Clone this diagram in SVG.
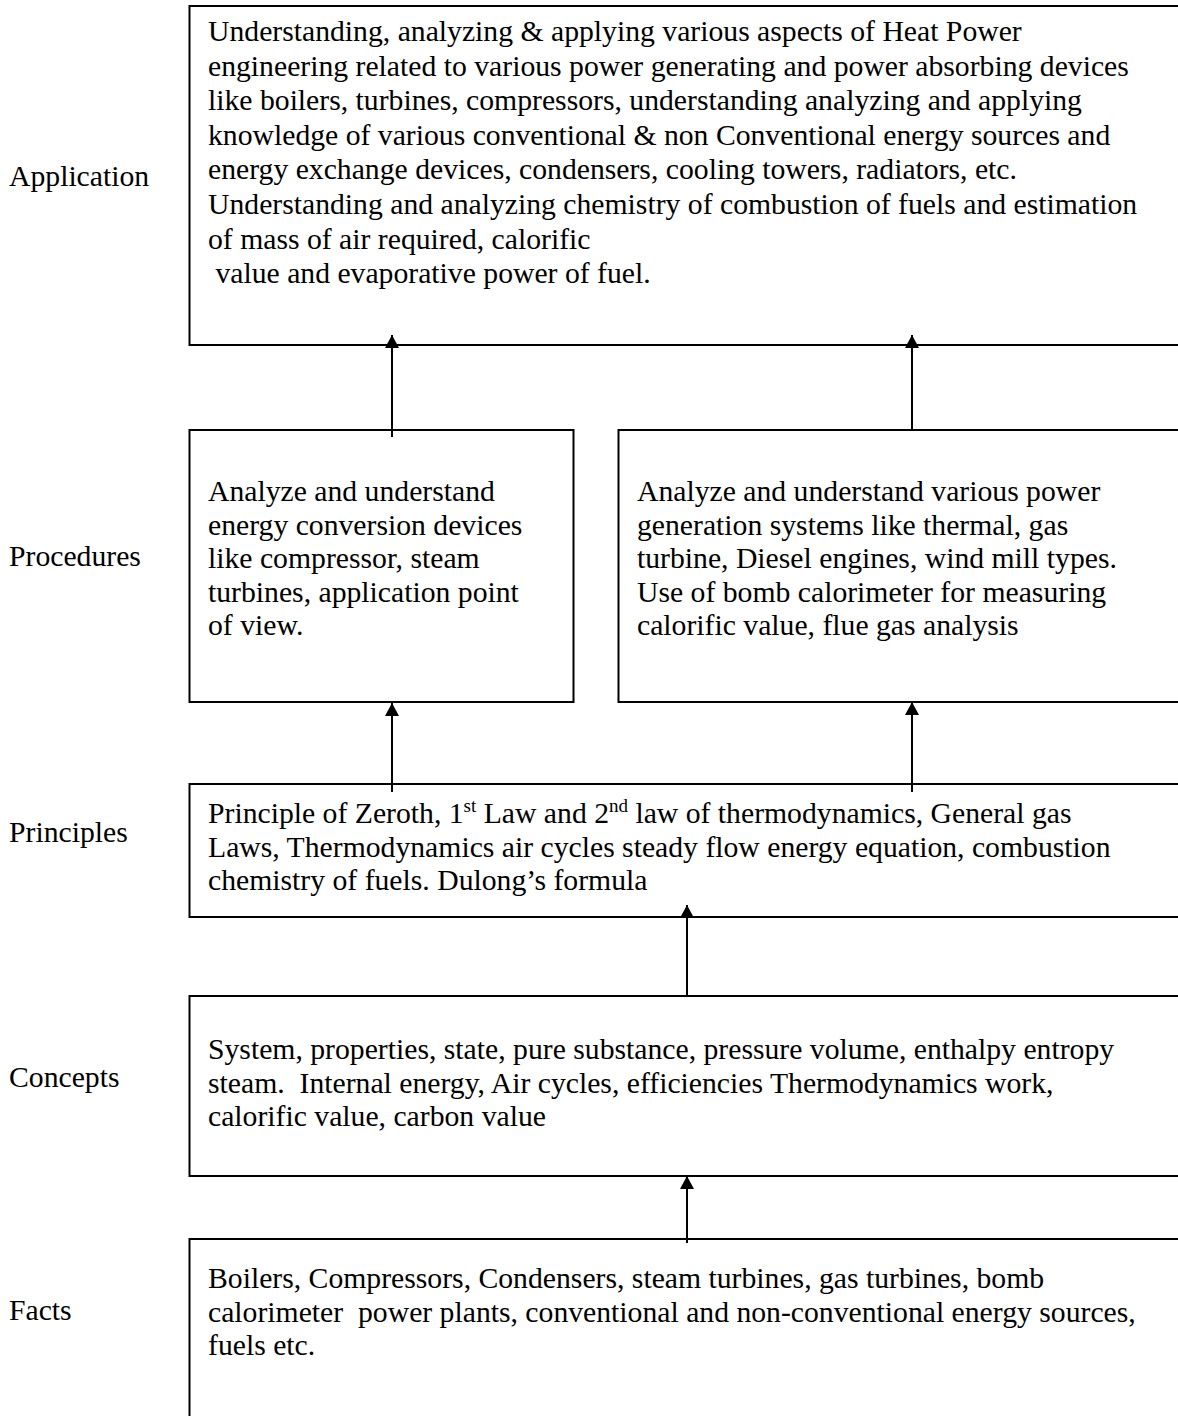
<svg xmlns="http://www.w3.org/2000/svg" width="1178" height="1416" viewBox="0 0 1178 1416">
  <style>
    text { font-family: "Liberation Serif", "Times New Roman", serif; font-size: 29.7px; fill: #000; }
    .sup { font-size: 19px; }
    .box { fill: #fff; stroke: #000; stroke-width: 2; }
    .link { stroke: #000; stroke-width: 2; fill: none; marker-end: url(#head); }
  </style>
  <defs>
    <marker id="head" markerUnits="userSpaceOnUse" markerWidth="16" markerHeight="16" viewBox="0 0 16 16" refX="14" refY="8" orient="auto">
      <path d="M1,1 L14,8 L1,15 Z" fill="#000"/>
    </marker>
  </defs>

  <rect width="1178" height="1416" fill="#fff"/>

  <!-- level names on the left -->
  <g id="level-labels">
    <text id="label-application" x="9" y="186">Application</text>
    <text id="label-procedures" x="9" y="566">Procedures</text>
    <text id="label-principles" x="9" y="842">Principles</text>
    <text id="label-concepts" x="9" y="1087">Concepts</text>
    <text id="label-facts" x="9" y="1320">Facts</text>
  </g>

  <g id="application">
    <rect class="box" x="189.5" y="6" width="1000" height="339"/>
    <text x="208" y="41">Understanding, analyzing &amp; applying various aspects of Heat Power</text>
    <text x="208" y="75.6">engineering related to various power generating and power absorbing devices</text>
    <text x="208" y="110.2">like boilers, turbines, compressors, understanding analyzing and applying</text>
    <text x="208" y="144.8">knowledge of various conventional &amp; non Conventional energy sources and</text>
    <text x="208" y="179.4">energy exchange devices, condensers, cooling towers, radiators, etc.</text>
    <text x="208" y="214">Understanding and analyzing chemistry of combustion of fuels and estimation</text>
    <text x="208" y="248.6">of mass of air required, calorific</text>
    <text x="208" y="283.2" xml:space="preserve"> value and evaporative power of fuel.</text>
  </g>

  <g id="procedures-devices">
    <rect class="box" x="189.5" y="430" width="384" height="272"/>
    <text x="208" y="501">Analyze and understand</text>
    <text x="208" y="534.5">energy conversion devices</text>
    <text x="208" y="568">like compressor, steam</text>
    <text x="208" y="601.5">turbines, application point</text>
    <text x="208" y="635">of view.</text>
  </g>

  <g id="procedures-systems">
    <rect class="box" x="618.5" y="430" width="600" height="272"/>
    <text x="637" y="501">Analyze and understand various power</text>
    <text x="637" y="534.5">generation systems like thermal, gas</text>
    <text x="637" y="568">turbine, Diesel engines, wind mill types.</text>
    <text x="637" y="601.5">Use of bomb calorimeter for measuring</text>
    <text x="637" y="635">calorific value, flue gas analysis</text>
  </g>

  <g id="principles">
    <rect class="box" x="189.5" y="784" width="1000" height="133"/>
    <text x="208" y="823">Principle of Zeroth, 1<tspan class="sup" dy="-11">st</tspan><tspan dy="11"> Law and 2</tspan><tspan class="sup" dy="-11">nd</tspan><tspan dy="11"> law of thermodynamics, General gas</tspan></text>
    <text x="208" y="856.5">Laws, Thermodynamics air cycles steady flow energy equation, combustion</text>
    <text x="208" y="890">chemistry of fuels. Dulong’s formula</text>
  </g>

  <g id="concepts">
    <rect class="box" x="189.5" y="996" width="1000" height="180"/>
    <text x="208" y="1059">System, properties, state, pure substance, pressure volume, enthalpy entropy</text>
    <text x="208" y="1092.5" xml:space="preserve">steam.  Internal energy, Air cycles, efficiencies Thermodynamics work,</text>
    <text x="208" y="1126">calorific value, carbon value</text>
  </g>

  <g id="facts">
    <rect class="box" x="189.5" y="1239" width="1000" height="200"/>
    <text x="208" y="1288">Boilers, Compressors, Condensers, steam turbines, gas turbines, bomb</text>
    <text x="208" y="1321.5" xml:space="preserve">calorimeter  power plants, conventional and non-conventional energy sources,</text>
    <text x="208" y="1355">fuels etc.</text>
  </g>

  <!-- upward links between levels -->
  <g id="connectors">
    <line class="link" x1="392" y1="437" x2="392" y2="335"/>
    <line class="link" x1="912" y1="430" x2="912" y2="335"/>
    <line class="link" x1="392" y1="792" x2="392" y2="703"/>
    <line class="link" x1="912" y1="792" x2="912" y2="702"/>
    <line class="link" x1="687" y1="996" x2="687" y2="905"/>
    <line class="link" x1="687" y1="1243" x2="687" y2="1176"/>
  </g>
</svg>
